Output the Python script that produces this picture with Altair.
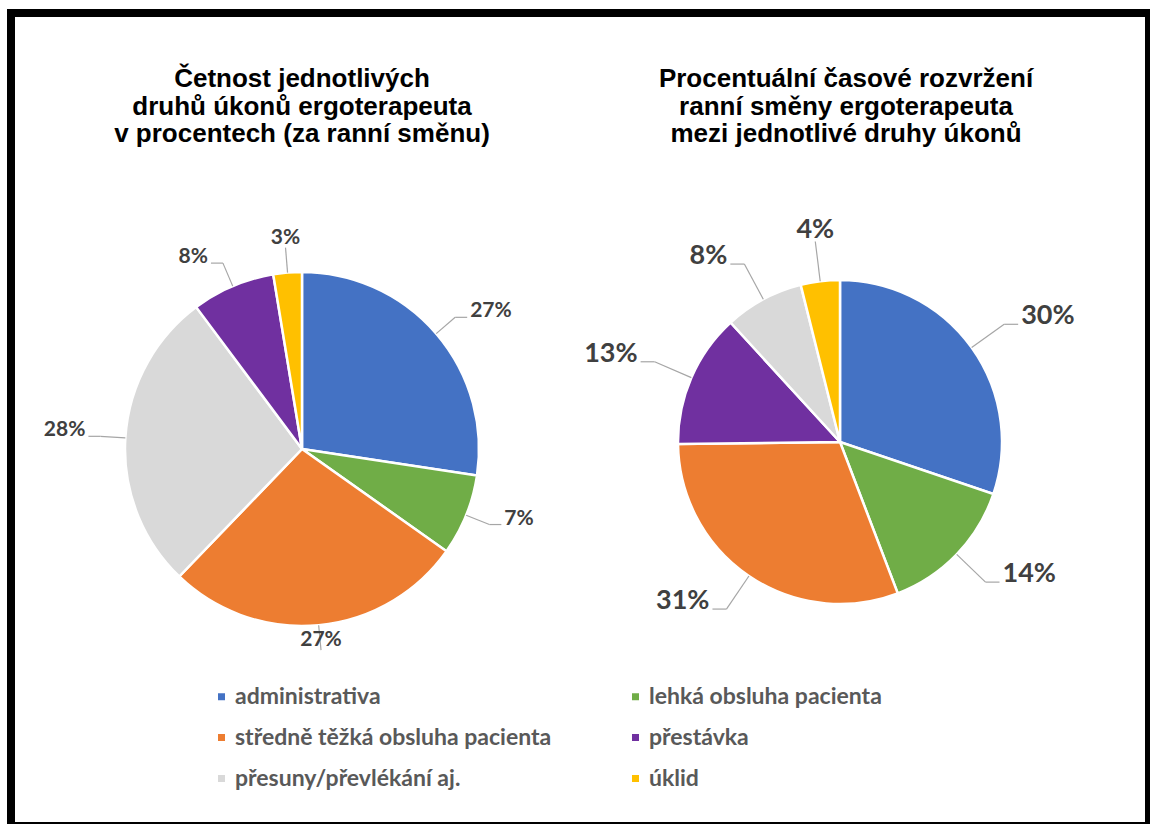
import altair as alt
import pandas as pd

# ---------------- data ----------------
categories = [
    "administrativa",
    "lehká obsluha pacienta",
    "středně těžká obsluha pacienta",
    "přestávka",
    "přesuny/převlékání aj.",
    "úklid",
]
colors = ["#4472C4", "#70AD47", "#ED7D31", "#7030A0", "#D9D9D9", "#FFC000"]

left_title = "Četnost jednotlivých\ndruhů úkonů ergoterapeuta\nv procentech (za ranní směnu)"
left_order = [
    "administrativa",
    "lehká obsluha pacienta",
    "středně těžká obsluha pacienta",
    "přesuny/převlékání aj.",
    "přestávka",
    "úklid",
]
left_values = [27.4, 7.4, 27.4, 27.6, 7.6, 2.6]

right_title = "Procentuální časové rozvržení\nranní směny ergoterapeuta\nmezi jednotlivé druhy úkonů"
right_order = [
    "administrativa",
    "lehká obsluha pacienta",
    "středně těžká obsluha pacienta",
    "přestávka",
    "přesuny/převlékání aj.",
    "úklid",
]
right_values = [30.2, 14.0, 30.6, 13.4, 7.9, 3.9]

# ---------------- layout / style ----------------
W, H = 1150, 825
LABEL_COLOR = "#404040"
LEADER_COLOR = "#A6A6A6"
LABEL_FONT = "Lato"
TITLE_FONT = "Liberation Sans"

color_scale = alt.Scale(domain=categories, range=colors)
legend = alt.Legend(
    orient="none",
    legendX=210,
    legendY=685,
    columns=2,
    direction="horizontal",
    title=None,
    symbolType="square",
    symbolSize=49,
    symbolStrokeWidth=0,
    labelFont=LABEL_FONT,
    labelFontSize=23,
    labelFontWeight="bold",
    labelColor="#595959",
    labelLimit=600,
    labelOffset=2,
    columnPadding=72,
    rowPadding=17,
)


def pie(order, values, cx, cy, r, lead, hook, fsize, with_legend):
    df = pd.DataFrame({"category": order, "value": values, "idx": list(range(len(order)))})
    base = (
        alt.Chart(df)
        .transform_joinaggregate(total="sum(value)")
        .transform_window(cum="sum(value)", sort=[alt.SortField("idx")], frame=[None, 0])
        .transform_calculate(t0="2*PI*(datum.cum - datum.value)/datum.total")
        .transform_calculate(t1="2*PI*datum.cum/datum.total")
        .transform_calculate(mid="(datum.t0 + datum.t1)/2")
        .transform_calculate(s="sin(datum.mid)")
        .transform_calculate(c="cos(datum.mid)")
        .transform_calculate(ax=f"{cx} + {r}*datum.s")
        .transform_calculate(ay=f"{cy} - {r}*datum.c")
        .transform_calculate(bx=f"{cx} + {r + lead}*datum.s")
        .transform_calculate(by=f"{cy} - {r + lead}*datum.c")
        .transform_calculate(side="datum.s > 0.2 ? 1 : (datum.s < -0.2 ? -1 : 0)")
        .transform_calculate(hx=f"datum.bx + datum.side*{hook}")
        .transform_calculate(label="format(datum.value, '.0f') + '%'")
    )
    arcs = base.mark_arc(radius=r, stroke="white", strokeWidth=2.5).encode(
        theta=alt.Theta("t0:Q", scale=None, stack=None),
        theta2="t1:Q",
        x=alt.value(cx),
        y=alt.value(cy),
        color=alt.Color("category:N", scale=color_scale, legend=legend if with_legend else None),
    )
    seg1 = base.mark_rule(color=LEADER_COLOR, strokeWidth=1.2).encode(
        x=alt.X("ax:Q", scale=None, axis=None),
        y=alt.Y("ay:Q", scale=None, axis=None),
        x2="bx:Q",
        y2="by:Q",
    )
    seg2 = base.mark_rule(color=LEADER_COLOR, strokeWidth=1.2).encode(
        x=alt.X("bx:Q", scale=None, axis=None),
        y=alt.Y("by:Q", scale=None, axis=None),
        x2="hx:Q",
        y2="by:Q",
    )
    txt_kw = dict(font=LABEL_FONT, fontSize=fsize, fontWeight="bold", color=LABEL_COLOR)
    right_txt = base.transform_filter("datum.side == 1").mark_text(
        align="left", baseline="alphabetic", dx=3, **txt_kw
    ).encode(
        x=alt.X("hx:Q", scale=None, axis=None),
        y=alt.Y("by:Q", scale=None, axis=None),
        text="label:N",
    )
    left_txt = base.transform_filter("datum.side == -1").mark_text(
        align="right", baseline="alphabetic", dx=-3, **txt_kw
    ).encode(
        x=alt.X("hx:Q", scale=None, axis=None),
        y=alt.Y("by:Q", scale=None, axis=None),
        text="label:N",
    )
    mid_txt = base.transform_filter("datum.side == 0").mark_text(
        align="center", baseline="alphabetic", dy=-4, **txt_kw
    ).encode(
        x=alt.X("bx:Q", scale=None, axis=None),
        y=alt.Y("by:Q", scale=None, axis=None),
        text="label:N",
    )
    return [arcs, seg1, seg2, right_txt, left_txt, mid_txt]


one = pd.DataFrame({"k": [0]})

frame_outer = alt.Chart(one).mark_rect(color="black").encode(
    x=alt.value(7), x2=alt.value(1150), y=alt.value(9), y2=alt.value(824)
)
frame_inner = alt.Chart(one).mark_rect(color="white").encode(
    x=alt.value(15), x2=alt.value(1145), y=alt.value(17), y2=alt.value(822)
)

title_kw = dict(
    font=TITLE_FONT, fontSize=26, fontWeight="bold", color="black",
    align="center", baseline="alphabetic", lineBreak="\n", lineHeight=27.5,
)
t_left = alt.Chart(one).mark_text(text=left_title, **title_kw).encode(
    x=alt.value(302), y=alt.value(87)
)
t_right = alt.Chart(one).mark_text(text=right_title, **title_kw).encode(
    x=alt.value(846), y=alt.value(87)
)

layers = [frame_outer, frame_inner, t_left, t_right]
layers += pie(left_order, left_values, 302, 449, 177, 25, 12, 21, True)
layers += pie(right_order, right_values, 840, 442, 162, 40, 14, 27, False)

chart = alt.layer(*layers).properties(
    width=W, height=H, padding=0, autosize="none", background="white"
).configure_view(stroke=None)

chart.save("out.html", embed_options={"renderer": "svg", "actions": False})
